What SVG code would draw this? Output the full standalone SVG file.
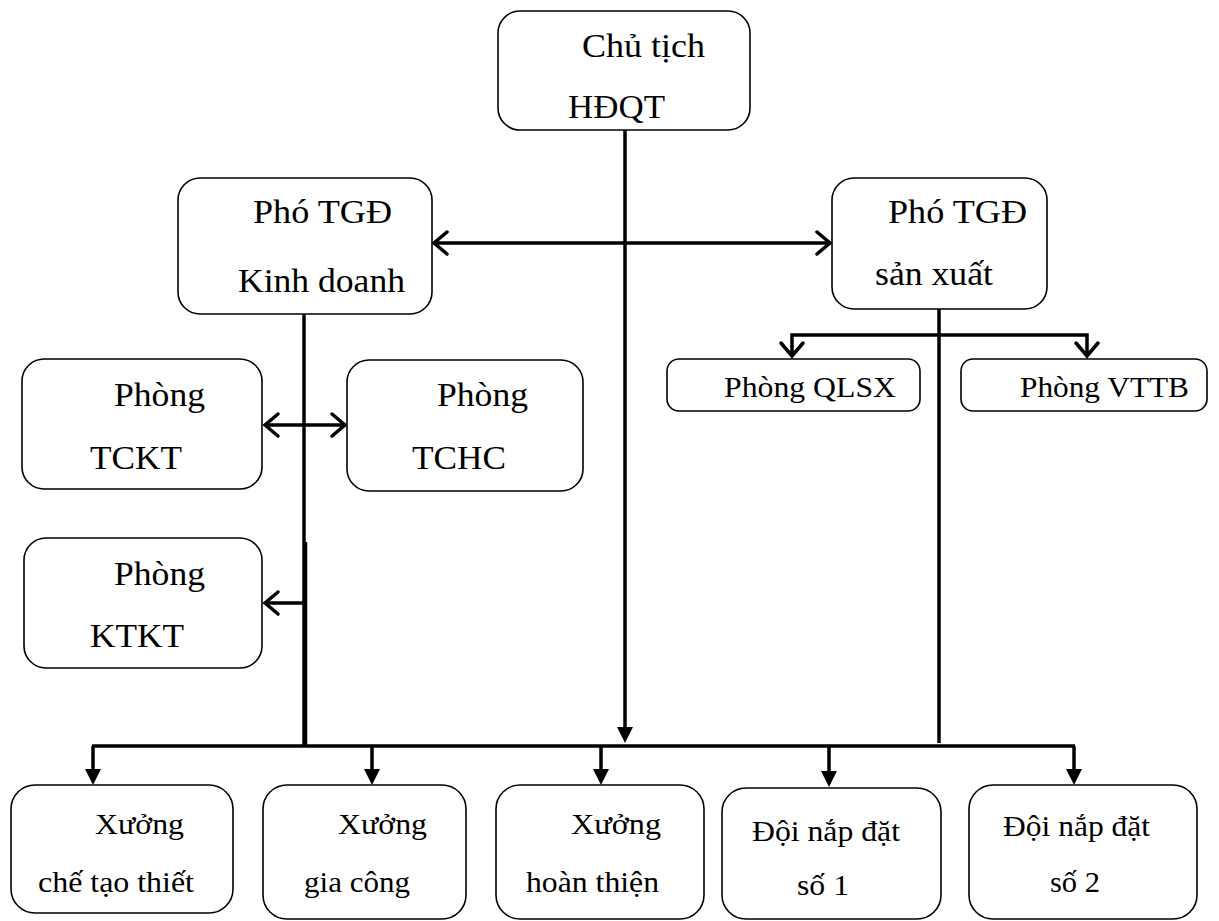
<svg xmlns="http://www.w3.org/2000/svg" width="1219" height="921" viewBox="0 0 1219 921">
<style>
.box{fill:#fff;stroke:#000;stroke-width:1.6}
text{font-family:'Liberation Serif','Times New Roman',Times,serif;fill:#000}
.t{font-size:33px}
.s{font-size:30px}
.c{fill:none;stroke:#000;stroke-width:3.5}
</style>
<defs>
<marker id="open" markerUnits="userSpaceOnUse" viewBox="-16 -13 20 26" refX="0" refY="0" markerWidth="20" markerHeight="26" orient="auto-start-reverse" overflow="visible">
<path d="M-13,-11 L0,0 L-13,11" fill="none" stroke="#000" stroke-width="3.5" stroke-linecap="round"/>
</marker>
<marker id="fill" markerUnits="userSpaceOnUse" viewBox="-16 -8 16 16" refX="-8" refY="0" markerWidth="16" markerHeight="16" orient="auto" overflow="visible">
<path d="M-16,-8 L0,0 L-16,8 z" fill="#000"/>
</marker>
</defs>
<g id="connectors">
<path class="c" d="M625,130 V735" marker-end="url(#fill)"/>
<path class="c" d="M434,243 H830" marker-start="url(#open)" marker-end="url(#open)"/>
<path class="c" d="M304,314 V746"/>
<path class="c" d="M305.5,542 V746"/>
<path class="c" d="M265,425 H345" marker-start="url(#open)" marker-end="url(#open)"/>
<path class="c" d="M304,603 H265" marker-end="url(#open)"/>
<path class="c" d="M939,309 V743"/>
<path class="c" d="M792,356 V335 H1087 V356" marker-start="url(#open)" marker-end="url(#open)"/>
<path class="c" d="M92,746 H1075"/>
<path class="c" d="M93,746 V777" marker-end="url(#fill)"/>
<path class="c" d="M372,746 V777" marker-end="url(#fill)"/>
<path class="c" d="M601,746 V777" marker-end="url(#fill)"/>
<path class="c" d="M829,746 V779" marker-end="url(#fill)"/>
<path class="c" d="M1074,746 V777" marker-end="url(#fill)"/>
</g>
<g id="chu-tich">
<rect class="box" x="498" y="11" width="252" height="119" rx="22"/>
<text class="t" x="582" y="57" textLength="123" lengthAdjust="spacingAndGlyphs">Chủ tịch</text>
<text class="t" x="568" y="118" textLength="97" lengthAdjust="spacingAndGlyphs">HĐQT</text>
</g>
<g id="pho-tgd-kd">
<rect class="box" x="178" y="178" width="254" height="136" rx="22"/>
<text class="t" x="253" y="223" textLength="139" lengthAdjust="spacingAndGlyphs">Phó TGĐ</text>
<text class="t" x="238" y="292" textLength="167" lengthAdjust="spacingAndGlyphs">Kinh doanh</text>
</g>
<g id="pho-tgd-sx">
<rect class="box" x="832" y="178" width="215" height="131" rx="22"/>
<text class="t" x="888" y="223" textLength="139" lengthAdjust="spacingAndGlyphs">Phó TGĐ</text>
<text class="t" x="875" y="285" textLength="118" lengthAdjust="spacingAndGlyphs">sản xuất</text>
</g>
<g id="phong-tckt">
<rect class="box" x="22" y="359" width="240" height="130" rx="22"/>
<text class="t" x="114" y="406" textLength="91" lengthAdjust="spacingAndGlyphs">Phòng</text>
<text class="t" x="90" y="469" textLength="92" lengthAdjust="spacingAndGlyphs">TCKT</text>
</g>
<g id="phong-tchc">
<rect class="box" x="347" y="360" width="236" height="131" rx="22"/>
<text class="t" x="437" y="406" textLength="91" lengthAdjust="spacingAndGlyphs">Phòng</text>
<text class="t" x="412" y="469" textLength="94" lengthAdjust="spacingAndGlyphs">TCHC</text>
</g>
<g id="phong-ktkt">
<rect class="box" x="24" y="538" width="238" height="130" rx="22"/>
<text class="t" x="114" y="585" textLength="91" lengthAdjust="spacingAndGlyphs">Phòng</text>
<text class="t" x="90" y="647" textLength="94" lengthAdjust="spacingAndGlyphs">KTKT</text>
</g>
<g id="phong-qlsx">
<rect class="box" x="667" y="359" width="253" height="52" rx="12"/>
<text class="s" x="724" y="397" textLength="172" lengthAdjust="spacingAndGlyphs">Phòng QLSX</text>
</g>
<g id="phong-vttb">
<rect class="box" x="961" y="359" width="246" height="52" rx="12"/>
<text class="s" x="1020" y="397" textLength="169" lengthAdjust="spacingAndGlyphs">Phòng VTTB</text>
</g>
<g id="xuong-che-tao">
<rect class="box" x="11" y="785" width="222" height="128" rx="24"/>
<text class="s" x="95" y="834" textLength="89" lengthAdjust="spacingAndGlyphs">Xưởng</text>
<text class="s" x="38" y="892" textLength="156" lengthAdjust="spacingAndGlyphs">chế tạo thiết</text>
</g>
<g id="xuong-gia-cong">
<rect class="box" x="263" y="785" width="203" height="134" rx="24"/>
<text class="s" x="338" y="834" textLength="89" lengthAdjust="spacingAndGlyphs">Xưởng</text>
<text class="s" x="304" y="892" textLength="106" lengthAdjust="spacingAndGlyphs">gia công</text>
</g>
<g id="xuong-hoan-thien">
<rect class="box" x="496" y="785" width="208" height="134" rx="24"/>
<text class="s" x="571" y="834" textLength="90" lengthAdjust="spacingAndGlyphs">Xưởng</text>
<text class="s" x="526" y="892" textLength="133" lengthAdjust="spacingAndGlyphs">hoàn thiện</text>
</g>
<g id="doi-1">
<rect class="box" x="722" y="788" width="219" height="131" rx="24"/>
<text class="s" x="752" y="841" textLength="148" lengthAdjust="spacingAndGlyphs">Đội nắp đặt</text>
<text class="s" x="797" y="895" textLength="52" lengthAdjust="spacingAndGlyphs">số 1</text>
</g>
<g id="doi-2">
<rect class="box" x="969" y="785" width="228" height="134" rx="24"/>
<text class="s" x="1003" y="836" textLength="147" lengthAdjust="spacingAndGlyphs">Đội nắp đặt</text>
<text class="s" x="1050" y="892" textLength="50" lengthAdjust="spacingAndGlyphs">số 2</text>
</g>
</svg>
